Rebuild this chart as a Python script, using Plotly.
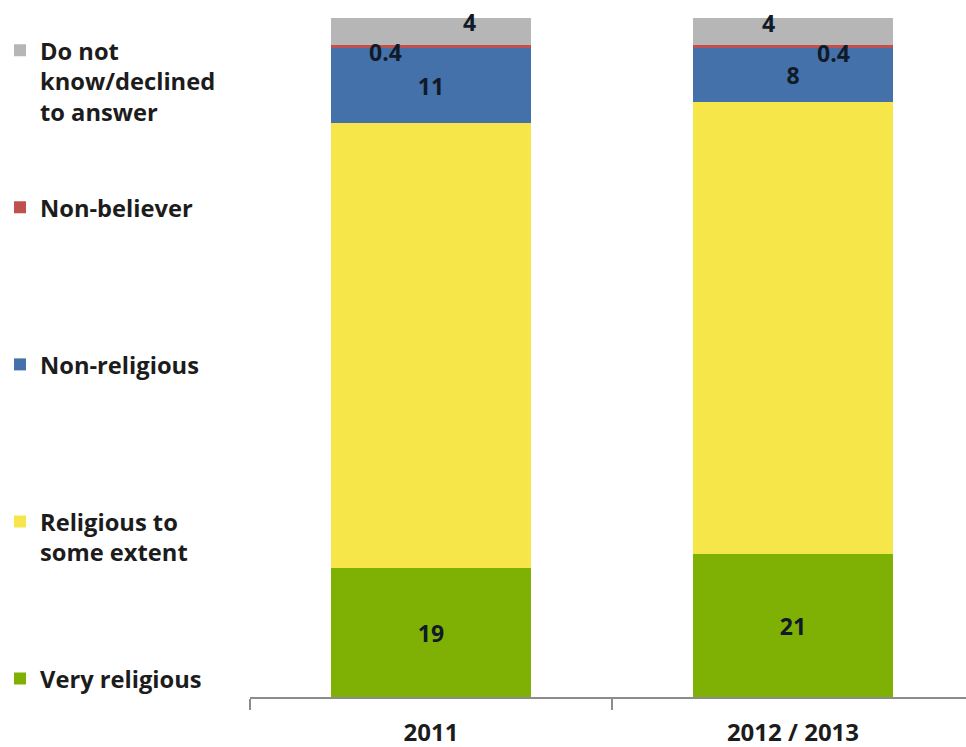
import plotly.graph_objects as go

# Survey periods (x categories)
periods = ["2011", "2012 / 2013"]

# Shares of respondents (%) by self-assessed religiosity, bottom to top of each stack
very_religious = [19, 21]
religious_some = [65.6, 66.6]
non_religious = [11, 8]
non_believer = [0.4, 0.4]
dont_know = [4, 4]

series_names = [
    "Very religious",
    "Religious to<br>some extent",
    "Non-religious",
    "Non-believer",
    "Do not<br>know/declined<br>to answer",
]
series_values = [very_religious, religious_some, non_religious, non_believer, dont_know]
series_colors = ["#7fb004", "#f6e64a", "#4571aa", "#c0504d", "#b6b6b6"]
# which segments carry an in-bar value label
show_inside = [True, False, True, False, False]

FONT = "Open Sans"
TEXT_COLOR = "#1c1c1c"
LABEL_COLOR = "#101a28"
LEGEND_LINES = 5  # legend entries padded to the same height (bottom one excepted)


def pad_lines(name, n):
    count = name.count("<br>") + 1
    return name + "<br> " * (n - count)


fig = go.Figure()
for i, (name, vals, col, inside) in enumerate(zip(series_names, series_values,
                                                  series_colors, show_inside)):
    legend_name = name if i == 0 else pad_lines(name, LEGEND_LINES)
    fig.add_trace(go.Bar(
        x=periods,
        y=vals,
        name=legend_name,
        marker=dict(color=col, line=dict(width=0)),
        width=0.555,
        text=[f"{v:g}" for v in vals] if inside else None,
        textposition="inside" if inside else "none",
        insidetextanchor="middle",
        textangle=0,
        constraintext="none",
        textfont=dict(family=FONT, size=23, weight="bold", color=LABEL_COLOR),
        hoverinfo="skip",
    ))

# small segments at the top of the stacks get labels placed beside them
outer_label_shifts = {
    3: [(-45, -5), (41, -6)],   # non-believer
    4: [(39, 10), (-24, 9)],    # do not know
}
annotations = []
for idx, shifts in outer_label_shifts.items():
    for j in range(len(periods)):
        base = sum(series_values[k][j] for k in range(idx))
        val = series_values[idx][j]
        dx, dy = shifts[j]
        annotations.append(dict(
            x=j, y=base + val / 2, xref="x", yref="y",
            text=f"{val:g}", showarrow=False,
            xshift=dx, yshift=dy,
            font=dict(family=FONT, size=23, weight="bold", color=LABEL_COLOR),
        ))

fig.update_layout(
    barmode="stack",
    width=966,
    height=747,
    margin=dict(l=250, r=0, t=18, b=50),
    paper_bgcolor="white",
    plot_bgcolor="white",
    bargap=0,
    annotations=annotations,
    showlegend=True,
    legend=dict(
        xref="container", yref="container",
        x=0.0, y=0.962, xanchor="left", yanchor="top",
        maxheight=740,
        traceorder="reversed",
        valign="top",
        font=dict(family=FONT, size=23.7, weight="bold", color=TEXT_COLOR),
        bgcolor="rgba(0,0,0,0)",
        itemclick=False, itemdoubleclick=False,
    ),
    xaxis=dict(
        type="category",
        range=[-0.5, 1.478],
        automargin=False,
        showline=True, linecolor="#8c8c8c", linewidth=2,
        ticks="outside", tickson="boundaries", ticklen=11, tickwidth=2,
        tickcolor="#8c8c8c",
        ticklabelstandoff=13,
        tickfont=dict(family=FONT, size=24, weight="bold", color=TEXT_COLOR),
        showgrid=False, zeroline=False, fixedrange=True,
    ),
    yaxis=dict(
        range=[0, 100], visible=False, showgrid=False, fixedrange=True,
    ),
)

fig.write_html("out.html")
